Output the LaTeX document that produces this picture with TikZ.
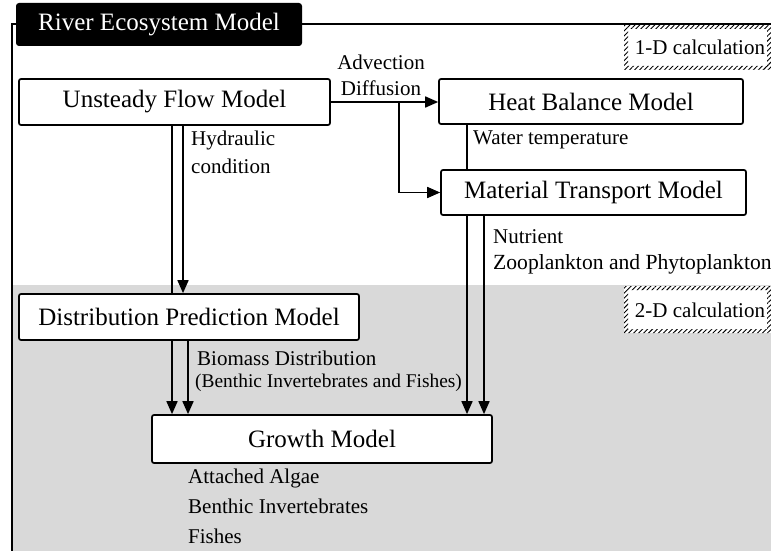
\documentclass[tikz,border=0pt]{standalone}
\usepackage{fontspec}
\setmainfont{Liberation Serif}
\usetikzlibrary{arrows.meta,patterns.meta,calc}
\pgfdeclarelayer{bg}
\pgfdeclarelayer{lines}
\pgfsetlayers{bg,lines,main}
\definecolor{greybg}{RGB}{217,217,217}
\tikzset{
  x=1pt, y=-1pt,
  model/.style={draw, line width=1.7pt, rounded corners=2pt, fill=white, inner sep=0pt,
    font=\fontsize{25}{30}\selectfont},
  lbl/.style={anchor=west, inner sep=0pt, font=\fontsize{21}{25}\selectfont},
  conn/.style={line width=1.7pt},
  arr/.style={conn, -{Triangle[length=13pt,width=11pt]}},
  hatchbox/.style={pattern={Lines[angle=45,distance=3.5pt,line width=0.9pt]}, even odd rule},
}
\begin{document}
\begin{tikzpicture}
\useasboundingbox (0,0) rectangle (771,551);
% background grey and frame
\begin{pgfonlayer}{bg}
  \fill[greybg] (12,285) rectangle (771,551);
\end{pgfonlayer}
\draw[line width=1.6pt] (12,560) -- (12,24) -- (780,24);

% title
\node[fill=black, rounded corners=3pt, minimum width=286pt, minimum height=43pt, inner sep=0pt,
  text=white, font=\fontsize{25}{30}\selectfont] (title) at (159,24.5) {River Ecosystem Model};

% calculation tags
\fill[white] (624,25) rectangle (772,70);
\fill[hatchbox] (624,25) rectangle (772,70) (628,29) rectangle (767,66);
\node[inner sep=0pt, font=\fontsize{21}{25}\selectfont] (oned) at (700,47) {1-D calculation};
\fill[white] (624,286) rectangle (772,333);
\fill[hatchbox] (624,286) rectangle (772,333) (628,290) rectangle (767,329);
\node[inner sep=0pt, font=\fontsize{21}{25}\selectfont] (twod) at (700,310) {2-D calculation};

% models
\node[model, minimum width=311pt, minimum height=46pt] (uf) at (174.5,102) {Unsteady Flow Model};
\node[model, minimum width=304pt, minimum height=45pt] (hb) at (591,101.5) {Heat Balance Model};
\node[model, minimum width=305pt, minimum height=45pt] (mt) at (593.5,192.5) {Material Transport Model};
\node[model, minimum width=340pt, minimum height=46pt] (dp) at (189,317) {Distribution Prediction Model};
\node[model, minimum width=340pt, minimum height=48pt] (gm) at (322,439) {Growth Model};

% x positions of connectors
\coordinate (a1) at (172,0);
\coordinate (a2) at (183,0);
\coordinate (a3) at (188,0);
\coordinate (a4) at (467,0);
\coordinate (a5) at (484,0);
\coordinate (a6) at (399,0);

\begin{pgfonlayer}{lines}
  \draw[arr] (uf.south -| a1) -- (gm.north -| a1);
  \draw[arr] (uf.south -| a2) -- (dp.north -| a2);
  \draw[arr] (dp.south -| a3) -- (gm.north -| a3);
  \draw[arr] (hb.south -| a4) -- (gm.north -| a4);
  \draw[arr] (mt.south -| a5) -- (gm.north -| a5);
  \draw[arr] (uf.east) -- (uf.east -| hb.west);
  \draw[arr] (uf.east -| a6) |- (mt.west);
\end{pgfonlayer}

% labels
\node[inner sep=0pt, font=\fontsize{21}{25}\selectfont] (adv) at (381,62) {Advection};
\node[inner sep=0pt, font=\fontsize{21}{25}\selectfont] (dif) at (381,88) {Diffusion};
\node[lbl] (hyd) at (191,140) {Hydraulic};
\node[lbl] (cond) at (191,166) {condition};
\node[lbl] (wt) at (473,140) {Water temperature};
\node[lbl] (nut) at (493,237) {Nutrient};
\node[lbl, font=\fontsize{21.6}{25}\selectfont] (zoo) at (493,264) {Zooplankton and Phytoplankton};
\node[lbl] (bio) at (197,358) {Biomass Distribution};
\node[lbl, font=\fontsize{19.4}{23}\selectfont] (ben) at (195,383) {(Benthic Invertebrates and Fishes)};
\node[lbl] (alg) at (188,478) {Attached Algae};
\node[lbl] (bi) at (188,506) {Benthic Invertebrates};
\node[lbl] (fis) at (188,536) {Fishes};
\end{tikzpicture}
\end{document}
